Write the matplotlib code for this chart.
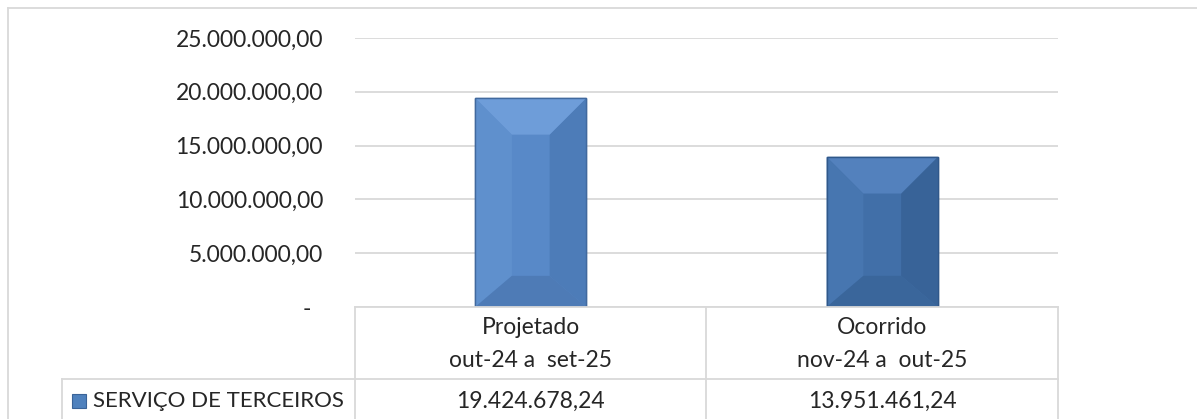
import matplotlib
matplotlib.use("Agg")
import matplotlib.pyplot as plt
from matplotlib.lines import Line2D
from matplotlib.transforms import blended_transform_factory
import numpy as np

# ---- data ----
categories = ["Projetado\nout-24 a  set-25", "Ocorrido\nnov-24 a  out-25"]
values = [19424678.24, 13951461.24]
value_labels = ["19.424.678,24", "13.951.461,24"]
series_name = "SERVIÇO DE TERCEIROS"
yticks = [0, 5000000, 10000000, 15000000, 20000000, 25000000]

W, H = 1197, 419
plt.rcParams['font.family'] = ['Lato', 'DejaVu Sans']
FS = 16.5
GRID = "#D9D9D9"
TXT = "#262626"

fig = plt.figure(figsize=(W / 100, H / 100), dpi=100)

def fx(px):
    return px / W

def fy(py):
    return 1 - py / H

ax = fig.add_axes([fx(355), fy(307), fx(1058) - fx(355), fy(38) - fy(307)])
ax.set_xlim(-0.5, len(categories) - 0.5)
ax.set_ylim(0, 25000000)

def fmt(v):
    if v == 0:
        return "-  "
    s = f"{v:,.2f}"
    return s.replace(",", "X").replace(".", ",").replace("X", ".")

ax.set_yticks(yticks)
ax.set_yticklabels([fmt(v) for v in yticks], fontsize=FS, color=TXT)
ax.tick_params(axis="y", length=0, pad=23)
ax.set_xticks([])
for s in ax.spines.values():
    s.set_visible(False)
ax.grid(axis="y", color=GRID, linewidth=1.3)
ax.set_axisbelow(True)

x = np.arange(len(categories))
palettes = [
    dict(center="#5889C8", top="#6E9DD9", left="#5F90CD", right="#4D7CB8", bottom="#4E7BB6", edge="#41699E"),
    dict(center="#416FA8", top="#5381BD", left="#4776B0", right="#386398", bottom="#3A669B", edge="#30588A"),
]
bars = ax.bar(x, values, width=0.316, color=[p["center"] for p in palettes],
              edgecolor=[p["edge"] for p in palettes], linewidth=1.0, zorder=2)

# bevel decoration derived from each bar's geometry
inv = ax.transData.inverted()
for b, p in zip(bars, palettes):
    x0, y0 = b.get_x(), b.get_y()
    x1, y1 = x0 + b.get_width(), y0 + b.get_height()
    (X0, Y0), (X1, Y1) = ax.transData.transform([(x0, y0), (x1, y1)])
    d = 0.33 * (X1 - X0)
    db = d * 0.85
    polys = {
        "top": [(X0, Y1), (X1, Y1), (X1 - d, Y1 - d), (X0 + d, Y1 - d)],
        "bottom": [(X0, Y0), (X1, Y0), (X1 - d, Y0 + db), (X0 + d, Y0 + db)],
        "left": [(X0, Y0), (X0, Y1), (X0 + d, Y1 - d), (X0 + d, Y0 + db)],
        "right": [(X1, Y0), (X1, Y1), (X1 - d, Y1 - d), (X1 - d, Y0 + db)],
    }
    for k in ["left", "right", "bottom", "top"]:
        pts = inv.transform(polys[k])
        ax.fill(pts[:, 0], pts[:, 1], color=p[k], zorder=2.5, linewidth=0)
    ax.bar(b.get_x() + b.get_width() / 2, b.get_height(), width=b.get_width(),
           fill=False, edgecolor=p["edge"], linewidth=1.0, zorder=3)

# ---- table / frame lines (figure pixel layout) ----
def hline(y, xa, xb):
    fig.add_artist(Line2D([fx(xa), fx(xb)], [fy(y), fy(y)], color=GRID, linewidth=1.3))

def vline(xp, ya, yb):
    fig.add_artist(Line2D([fx(xp), fx(xp)], [fy(ya), fy(yb)], color=GRID, linewidth=1.3))

hline(8, 8, 1197)
vline(8, 8, 419)
hline(307, 355, 1058)
hline(379, 62, 1058)
for xp in (355, 706, 1058):
    vline(xp, 307, 419)
vline(62, 379, 419)

tr = blended_transform_factory(ax.transData, fig.transFigure)
for xi, cat, vl in zip(x, categories, value_labels):
    l1, l2 = cat.split("\n")
    fig.text(xi, fy(327), l1, transform=tr, ha="center", va="center", fontsize=FS, color=TXT)
    fig.text(xi, fy(360), l2, transform=tr, ha="center", va="center", fontsize=FS, color=TXT)
    fig.text(xi, fy(401), vl, transform=tr, ha="center", va="center", fontsize=FS, color=TXT)

# legend key
fig.add_artist(plt.Rectangle((fx(72), fy(408)), fx(14), fy(394) - fy(408),
                             facecolor="#4F81BD", edgecolor="#3A6398", linewidth=0.8))
fig.text(fx(93), fy(401), series_name, ha="left", va="center", fontsize=16, color=TXT)

fig.savefig("out.png", dpi=100)
